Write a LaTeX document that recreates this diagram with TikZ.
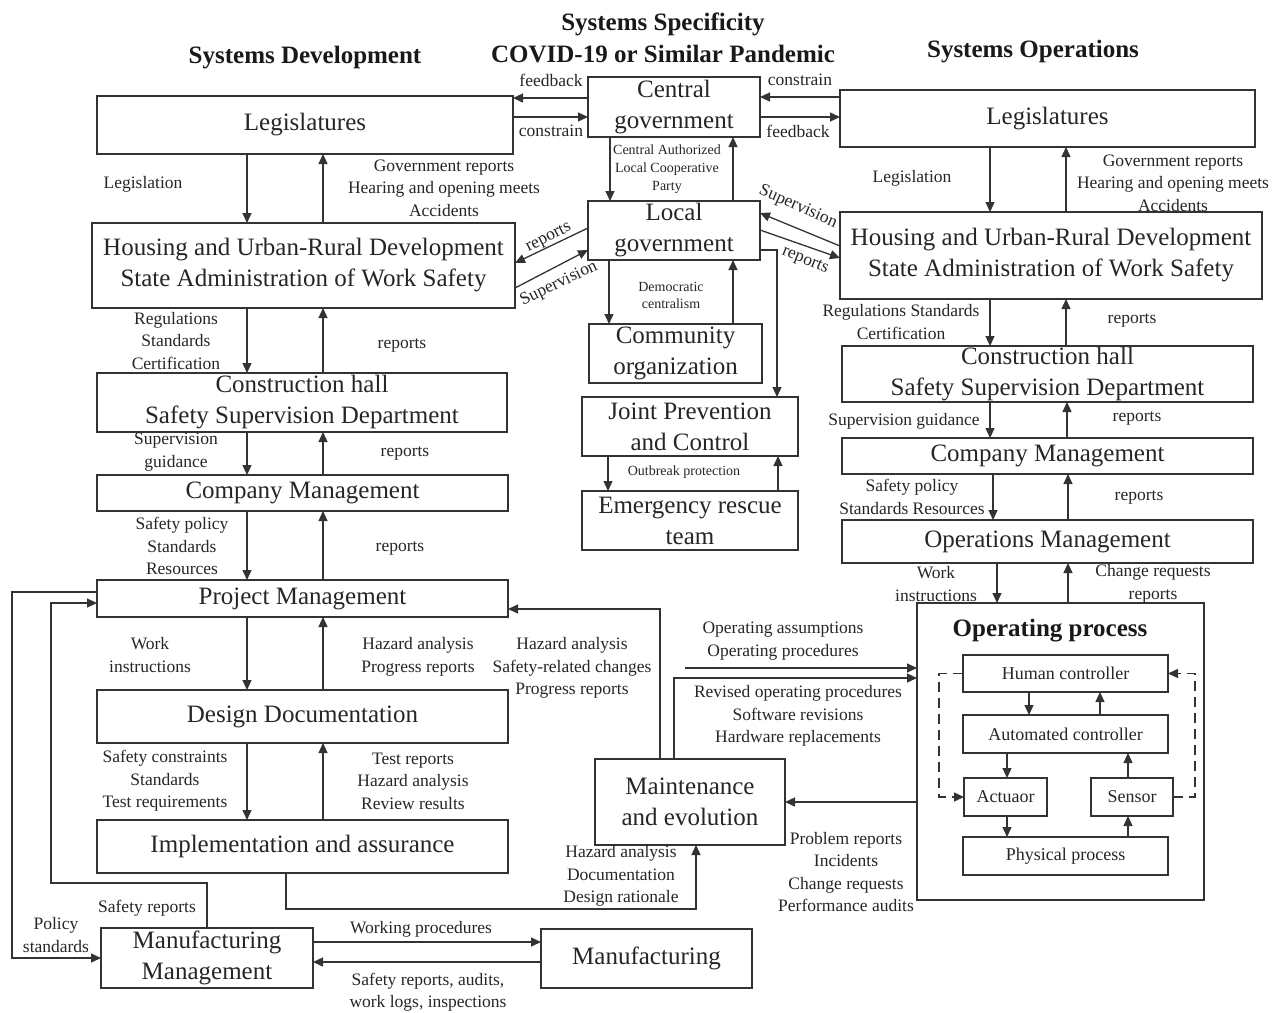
\documentclass[tikz,border=0pt]{standalone}
\usepackage{fontspec}
\setmainfont{Liberation Serif}
\usetikzlibrary{arrows.meta}
\newcommand\bx[7][box]{\node[#1, minimum width={#5-#3}, minimum height={#6-#4}] (#2) at ({(#3+#5)/2},{(#4+#6)/2}) {#7};}
\begin{document}
\begin{tikzpicture}[x=1pt,y=-1pt,
  line/.style={draw=black!80, line width=1.3pt},
  arr/.style={line, -{Triangle[length=10pt,width=9pt]}},
  box/.style={draw=black!80, line width=1.3pt, fill=white, inner sep=0pt, outer sep=0pt, align=center, font=\fontsize{25}{31}\selectfont, text=black!85},
  sbox/.style={box, font=\fontsize{18}{21}\selectfont},
  lab/.style={inner sep=0pt, align=center, font=\fontsize{17.5}{22.5}\selectfont, text=black!85},
  tinylab/.style={inner sep=0pt, align=center, font=\fontsize{14}{18}\selectfont, text=black!85},
  ttl/.style={inner sep=0pt, align=center, font=\bfseries\fontsize{25}{30}\selectfont, text=black!90},
]
\useasboundingbox (0,0) rectangle (1282,1012);

% titles
\node[ttl] (t1) at (305,58) {Systems Development};
\node[ttl] (t2) at (663,24) {Systems Specificity};
\node[ttl] (t3) at (663,54) {COVID-19 or Similar Pandemic};
\node[ttl] (t4) at (1033,52) {Systems Operations};

% left column
\bx{legL}{97}{96}{513}{154}{Legislatures}
\bx{housL}{92}{223}{515}{308}{Housing and Urban-Rural Development\\State Administration of Work Safety}
\bx{conL}{97}{373}{507}{432}{Construction hall\\Safety Supervision Department}
\bx{compL}{97}{475}{508}{511}{Company Management}
\bx{proj}{97}{580}{508}{617}{Project Management}
\bx{design}{97}{690}{508}{743}{Design Documentation}
\bx{impl}{97}{820}{508}{873}{Implementation and assurance}
\bx{mfgM}{101}{928}{313}{988}{Manufacturing\\Management}
\bx{mfg}{541}{929}{752}{988}{Manufacturing}

% centre column
\bx{cent}{588}{77}{760}{137}{Central\\government}
\bx{loc}{588}{201}{760}{260}{Local\\government}
\bx{comm}{589}{324}{762}{383}{Community\\organization}
\bx{joint}{582}{397}{798}{456}{Joint Prevention\\and Control}
\bx{emer}{582}{491}{798}{550}{Emergency rescue\\team}
\bx{maint}{595}{759}{785}{845}{Maintenance\\and evolution}

% right column
\bx{legR}{840}{90}{1255}{147}{Legislatures}
\bx{housR}{840}{212}{1262}{299}{Housing and Urban-Rural Development\\State Administration of Work Safety}
\bx{conR}{842}{346}{1253}{402}{Construction hall\\Safety Supervision Department}
\bx{compR}{842}{438}{1253}{474}{Company Management}
\bx{ops}{842}{520}{1253}{563}{Operations Management}
\bx{op}{917}{603}{1204}{900}{}
\node[ttl] (opt) at (1050,631) {Operating process};
\bx[sbox]{hc}{963}{655}{1168}{692}{Human controller}
\bx[sbox]{ac}{963}{715}{1168}{753}{Automated controller}
\bx[sbox]{act}{964}{778}{1047}{816}{Actuaor}
\bx[sbox]{sen}{1091}{778}{1173}{816}{Sensor}
\bx[sbox]{phys}{963}{837}{1168}{875}{Physical process}

% left vertical pairs
\foreach \u/\l in {legL/housL, housL/conL, conL/compL, compL/proj, proj/design, design/impl} {
  \draw[arr] (\u.south -| 247,0) -- (\l.north -| 247,0);
  \draw[arr] (\l.north -| 323,0) -- (\u.south -| 323,0);
}
% right vertical pairs
\foreach \u/\l/\d/\p in {legR/housR/990/1066, housR/conR/990/1066, conR/compR/990/1067, compR/ops/993/1068, ops/op/997/1068} {
  \draw[arr] (\u.south -| \d,0) -- (\l.north -| \d,0);
  \draw[arr] (\l.north -| \p,0) -- (\u.south -| \p,0);
}

% centre connectors
\draw[arr] (cent.west |- 0,98) -- (legL.east |- 0,98);
\draw[arr] (legL.east |- 0,117) -- (cent.west |- 0,117);
\draw[arr] (legR.west |- 0,97) -- (cent.east |- 0,97);
\draw[arr] (cent.east |- 0,117) -- (legR.west |- 0,117);
\draw[arr] (cent.south -| 610,0) -- (loc.north -| 610,0);
\draw[arr] (loc.north -| 733,0) -- (cent.south -| 733,0);
\draw[arr] (loc.south -| 609,0) -- (comm.north -| 609,0);
\draw[arr] (comm.north -| 733,0) -- (loc.south -| 733,0);
\draw[arr] (loc.east |- 0,250) -- (777,250) -- (joint.north -| 777,0);
\draw[arr] (joint.south -| 608,0) -- (emer.north -| 608,0);
\draw[arr] (emer.north -| 778,0) -- (joint.south -| 778,0);
\draw[arr] (loc.west |- 0,228) -- (housL.east |- 0,263);
\draw[arr] (housL.east |- 0,288) -- (loc.west |- 0,250);
\draw[arr] (housR.west |- 0,246) -- (loc.east |- 0,213);
\draw[arr] (loc.east |- 0,230) -- (housR.west |- 0,258);

% bottom-left loops
\draw[arr] (proj.west |- 0,592) -- (12,592) -- (12,958) -- (mfgM.west |- 0,958);
\draw[arr] (mfgM.north -| 207,0) -- (207,883) -- (51,883) -- (51,603) -- (proj.west |- 0,603);
\draw[arr] (impl.south -| 286,0) -- (286,909) -- (696,909) -- (maint.south -| 696,0);
\draw[arr] (maint.north -| 660,0) -- (660,609) -- (proj.east |- 0,609);
\draw[arr] (maint.north -| 674,0) -- (674,678) -- (op.west |- 0,678);
\coordinate (oa) at (685,668);
\draw[arr] (oa) -- (op.west |- oa);
\draw[arr] (op.west |- 0,802) -- (maint.east |- 0,802);
\draw[arr] (mfgM.east |- 0,942) -- (mfg.west |- 0,942);
\draw[arr] (mfg.west |- 0,962) -- (mfgM.east |- 0,962);

% operating process internals
\draw[arr] (hc.south -| 1029,0) -- (ac.north -| 1029,0);
\draw[arr] (ac.north -| 1100,0) -- (hc.south -| 1100,0);
\draw[arr] (ac.south -| 1007,0) -- (act.north -| 1007,0);
\draw[arr] (sen.north -| 1128,0) -- (ac.south -| 1128,0);
\draw[arr] (act.south -| 1007,0) -- (phys.north -| 1007,0);
\draw[arr] (phys.north -| 1128,0) -- (sen.south -| 1128,0);
\draw[arr, dash pattern=on 10pt off 6pt] (hc.west) -- (939,673.5) -- (939,797) -- (act.west);
\draw[arr, dash pattern=on 10pt off 6pt] (sen.east) -- (1195,797) -- (1195,673.5) -- (hc.east);

% labels left
\node[lab] (l1) at (143,184) {Legislation};
\node[lab] (l2) at (444,188) {Government reports\\Hearing and opening meets\\Accidents};
\node[lab] (l3) at (176,341) {Regulations\\Standards\\Certification};
\node[lab] (l4) at (402,345) {reports};
\node[lab] (l5) at (176,452) {Supervision\\guidance};
\node[lab] (l6) at (405,453) {reports};
\node[lab] (l7) at (182,546) {Safety policy\\Standards\\Resources};
\node[lab] (l8) at (400,548) {reports};
\node[lab] (l9) at (150,655) {Work\\instructions};
\node[lab] (l10) at (418,657) {Hazard analysis\\Progress reports};
\node[lab] (l11) at (165,781) {Safety constraints\\Standards\\Test requirements};
\node[lab] (l12) at (413,781) {Test reports\\Hazard analysis\\Review results};
\node[lab] (l13) at (572,668) {Hazard analysis\\Safety-related changes\\Progress reports};
\node[lab] (l14) at (621,876) {Hazard analysis\\Documentation\\Design rationale};
\node[lab] (l15) at (147,908) {Safety reports};
\node[lab] (l16) at (56,935) {Policy\\standards};
\node[lab] (l17) at (421,929) {Working procedures};
\node[lab] (l18) at (428,992) {Safety reports, audits,\\work logs, inspections};

% labels centre
\node[lab] (c1) at (551,80) {feedback};
\node[lab] (c2) at (551,131) {constrain};
\node[lab] (c3) at (800,80) {constrain};
\node[lab] (c4) at (798,131) {feedback};
\node[tinylab] (c5) at (667,169) {Central Authorized\\Local Cooperative\\Party};
\node[tinylab, font=\fontsize{14}{17}\selectfont] (c6) at (671,295) {Democratic\\centralism};
\node[tinylab] (c7) at (684,472) {Outbreak protection};
\node[lab, rotate=27] (c8) at (549,238) {reports};
\node[lab, rotate=26] (c9) at (559,284) {Supervision};
\node[lab, rotate=-24] (c10) at (798,207) {Supervision};
\node[lab, rotate=-22] (c11) at (805,261) {reports};

% labels right
\node[lab] (r1) at (912,178) {Legislation};
\node[lab] (r2) at (1173,183) {Government reports\\Hearing and opening meets\\Accidents};
\node[lab] (r3) at (901,322) {Regulations Standards\\Certification};
\node[lab] (r4) at (1132,320) {reports};
\node[lab] (r5) at (904,421) {Supervision guidance};
\node[lab] (r6) at (1137,418) {reports};
\node[lab] (r7) at (912,497) {Safety policy\\Standards Resources};
\node[lab] (r8) at (1139,497) {reports};
\node[lab] (r9) at (936,584) {Work\\instructions};
\node[lab] (r10) at (1153,584) {Change requests\\reports};
\node[lab] (r11) at (783,641) {Operating assumptions\\Operating procedures};
\node[lab] (r12) at (798,716) {Revised operating procedures\\Software revisions\\Hardware replacements};
\node[lab] (r13) at (846,872) {Problem reports\\Incidents\\Change requests\\Performance audits};
\end{tikzpicture}
\end{document}
